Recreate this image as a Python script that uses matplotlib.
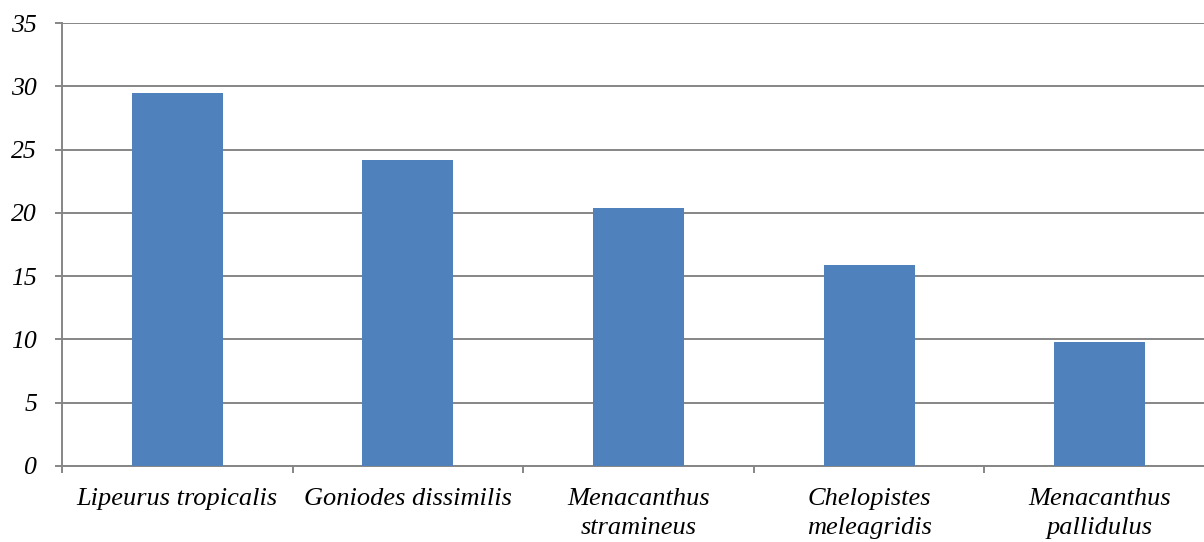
import matplotlib
matplotlib.use("Agg")
import matplotlib.pyplot as plt
import numpy as np

species = ["Lipeurus tropicalis", "Goniodes dissimilis", "Menacanthus\nstramineus",
           "Chelopistes\nmeleagridis", "Menacanthus\npallidulus"]
values = [29.5, 24.2, 20.4, 15.9, 9.8]
yticks = [0, 5, 10, 15, 20, 25, 30, 35]

plt.rcParams["font.family"] = ["Liberation Serif", "DejaVu Serif"]

fig = plt.figure(figsize=(12.04, 5.42), dpi=100)
ax = fig.add_axes([62 / 1204, 76 / 542, 1153 / 1204, 443 / 542])

x = np.arange(len(species))
ax.bar(x, values, width=0.395, color="#4F81BD", zorder=3)

grid_c = "#868686"
ax.set_ylim(0, 35)
ax.set_xlim(-0.5, len(species) - 0.5)
ax.set_yticks(yticks)
ax.set_yticklabels([str(t) for t in yticks], fontsize=18.5, style="italic")
ax.yaxis.grid(True, color=grid_c, lw=1.4, zorder=0)

# category ticks sit on the boundaries, labels in the middle
ax.set_xticks(np.arange(len(species) + 1) - 0.5)
ax.set_xticklabels([])
ax.set_xticks(x, minor=True)
ax.set_xticklabels(species, minor=True, fontsize=19, style="italic",
                   linespacing=1.4)
ax.tick_params(axis="x", which="major", length=5, color=grid_c, width=1.4)
ax.tick_params(axis="x", which="minor", length=0, pad=16)
ax.tick_params(axis="y", length=5, color=grid_c, width=1.4, pad=13)

for s in ["top", "right"]:
    ax.spines[s].set_visible(False)
for s in ["left", "bottom"]:
    ax.spines[s].set_color(grid_c)
    ax.spines[s].set_linewidth(1.4)

fig.savefig("out.png", dpi=100)
